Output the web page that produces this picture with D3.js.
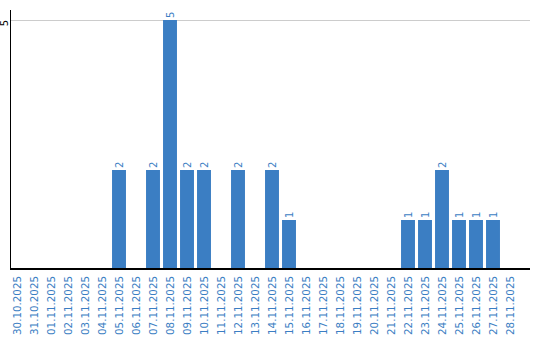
<!DOCTYPE html>
<html>
<head>
<meta charset="utf-8">
<script src="https://cdn.jsdelivr.net/npm/d3@7"></script>
<style>
  html, body { margin: 0; padding: 0; background: #fff; }
  svg { display: block; }
  text { font-family: "DejaVu Sans", Verdana, sans-serif; }
</style>
</head>
<body>
<div id="chart"></div>
<script>
const dates = ["30.10.2025","31.10.2025","01.11.2025","02.11.2025","03.11.2025","04.11.2025","05.11.2025","06.11.2025","07.11.2025","08.11.2025","09.11.2025","10.11.2025","11.11.2025","12.11.2025","13.11.2025","14.11.2025","15.11.2025","16.11.2025","17.11.2025","18.11.2025","19.11.2025","20.11.2025","21.11.2025","22.11.2025","23.11.2025","24.11.2025","25.11.2025","26.11.2025","27.11.2025","28.11.2025"];
const counts = [0,0,0,0,0,0,2,0,2,5,2,2,0,2,0,2,1,0,0,0,0,0,0,1,1,2,1,1,1,0];
const yTicks = [5];

(function () {
const W = 540, H = 340;
const mLeft = 10, mRight = 530, mTop = 20, mBottom = 270;
const blue = "#3b7ec3";

const svg = d3.select("#chart").append("svg").attr("width", W).attr("height", H);

const x = d3.scaleBand().domain(dates).range([8.5, 518.5]).paddingInner(0.18).paddingOuter(0.09);
const y = d3.scaleLinear().domain([0, 5]).range([mBottom, mTop]);

// gridlines
svg.append("g").selectAll("line").data(yTicks).join("line")
  .attr("x1", mLeft).attr("x2", mRight)
  .attr("y1", d => Math.round(y(d)) + 0.5).attr("y2", d => Math.round(y(d)) + 0.5)
  .attr("stroke", "#cccccc").attr("stroke-width", 1);

// y tick labels
svg.append("g").selectAll("text").data(yTicks).join("text")
  .attr("transform", d => `translate(7.5,${y(d) + 3}) rotate(-90)`)
  .attr("text-anchor", "middle")
  .attr("font-size", 10).attr("fill", "#000")
  .text(d => d);

const data = dates.map((d, i) => ({ date: d, v: counts[i] }));
svg.append("g").selectAll("rect").data(data.filter(d => d.v > 0)).join("rect")
  .attr("x", d => x(d.date)).attr("width", x.bandwidth())
  .attr("y", d => y(d.v)).attr("height", d => y(0) - y(d.v))
  .attr("fill", blue);

svg.append("g").selectAll("text").data(data.filter(d => d.v > 0)).join("text")
  .attr("transform", d => `translate(${x(d.date) + x.bandwidth() / 2 + 3.8},${y(d.v) - 2}) rotate(-90)`)
  .attr("text-anchor", "start")
  .attr("font-size", 10).attr("fill", blue)
  .text(d => d.v);

svg.append("line").attr("x1", mLeft + 0.5).attr("x2", mLeft + 0.5).attr("y1", 10).attr("y2", mBottom)
  .attr("stroke", "#000").attr("stroke-width", 1);
svg.append("line").attr("x1", mLeft).attr("x2", mRight).attr("y1", mBottom - 1).attr("y2", mBottom - 1)
  .attr("stroke", "#000").attr("stroke-width", 2);

svg.append("g").selectAll("text").data(dates).join("text")
  .attr("transform", d => `translate(${x(d) + x.bandwidth() / 2 + 3.8},276) rotate(-90)`)
  .attr("text-anchor", "end")
  .attr("font-size", 10.3).attr("fill", blue)
  .text(d => d);
})();
</script>
</body>
</html>
